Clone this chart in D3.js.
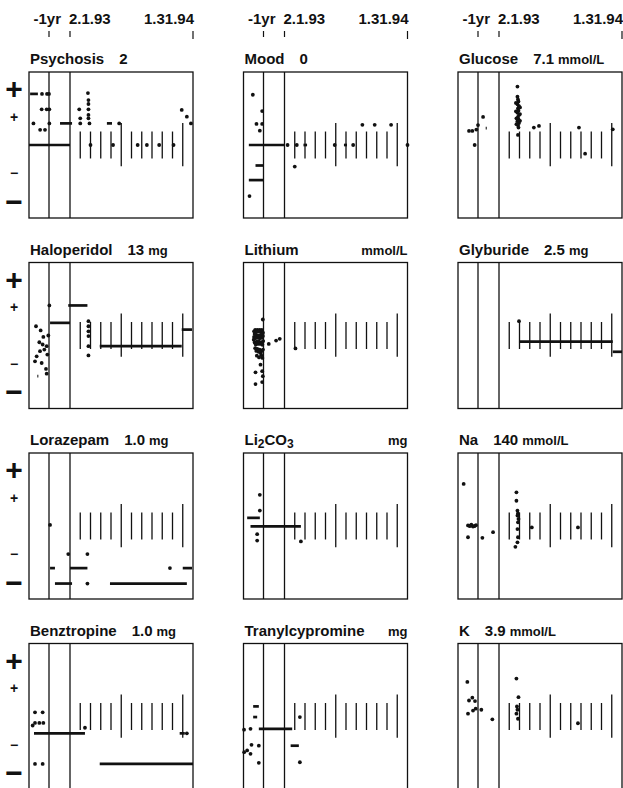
<!DOCTYPE html>
<html>
<head>
<meta charset="utf-8">
<script src="https://cdn.jsdelivr.net/npm/d3@7"></script>
<style>
  body { margin: 0; background: #fff; }
  text { font-family: "Liberation Sans", Arial, sans-serif; font-weight: bold; fill: #111; }
</style>
</head>
<body>
<div class="chart"></div>
<script>
// time is in months from 2.1.93; the stretch before -1yr is squeezed
const timeTicks = [-12, 0, 12];
const timeTickLabels = ['-1yr', '2.1.93', '1.31.94'];
const monthBars = [1, 2, 3, 4, 5, 6, 7, 8, 9, 10, 11];
const longBars = [5, 11];
const levelValues = [2, 1, -1, -2];
const levelLabels = ['+', '+', '\u2212', '\u2212'];

const names = ['Psychosis', 'Mood', 'Glucose', 'Haloperidol', 'Lithium', 'Glyburide',
  'Lorazepam', 'Li2CO3', 'Na', 'Benztropine', 'Tranylcypromine', 'K'];
const refValues = ['2', '0', '7.1', '13', '', '2.5', '1.0', '', '140', '1.0', '', '3.9'];
const units = ['', '', 'mmol/L', 'mg', 'mmol/L', 'mg', 'mg', 'mg', 'mmol/L', 'mg', 'mg', 'mmol/L'];

// dots: [time, level]   doses: [from, to, level]
const psychosisDots = [[-18.3, 1.82], [-13.8, 1.82], [-12, 1.82], [1.75, 1.85],
  [-18.6, 1.27], [-14.1, 1.27], [-11.8, 1.27], [0.9, 1.27], [1.8, 1.27],
  [1.8, 1.6], [1.8, 1.46], [1.8, 1.07], [1, 0.95], [1.8, 0.95],
  [-26, 0.77], [-11.8, 0.77], [1, 0.77], [1.9, 0.77], [4.8, 0.77],
  [-20, 0.54], [-15.6, 0.54],
  [2, 0], [4.2, 0], [6.6, 0], [7.5, 0], [8.7, 0], [10.1, 0],
  [10.9, 1.25], [11.4, 1.01], [11.8, 0.77]];
const psychosisDoses = [[-29, -22, 1.82], [-5.7, 0.2, 0.77], [-30, 0, 0], [3.6, 4.1, 0.77]];

const moodDots = [[-21.6, 1.79], [-13.2, 1.21], [-18.3, 0.75], [-13.2, 0.75], [-15.3, 0.51],
  [0.3, 0], [1.2, 0], [4.9, 0], [6.7, 0], [12, 0], [7.6, 0.72], [8.8, 0.72], [10.4, 0.72],
  [1, -0.77], [-24.6, -1.82]];
const moodDoses = [[-25.2, -0.2, 0], [1.85, 2.2, 0], [5.8, 6.1, 0], [-19.2, -11.8, -0.73],
  [-25.2, -11.8, -1.25]];

const glucoseDots = [[-20.1, 0.5], [-17.1, 0.5], [-13.5, 0.55], [-15, 0], [-12, 0.71], [-9.1, 1.0],
  [1.8, 2.08], [1.8, 1.72], [1.85, 1.62], [1.9, 1.55], [1.8, 1.45], [1.95, 1.38], [1.85, 1.3],
  [1.9, 1.22], [1.8, 1.15], [1.95, 1.07], [1.85, 1.0], [1.9, 0.92], [1.8, 0.85], [1.95, 0.78],
  [1.85, 0.7], [1.9, 0.62], [1.85, 0.36],
  [1.65, 1.5], [2.05, 1.34], [1.65, 1.2], [2.05, 1.1], [1.7, 0.95], [2.05, 0.86], [1.7, 0.74],
  [3.4, 0.62], [3.9, 0.68], [7.8, 0.62], [8.4, -0.31], [11.1, 0.56]];
const glucoseDoses = [[-7.6, -7.0, 0.6]];

const haloperidolDots = [[-23.7, 0.33], [-19.5, 0.18], [-17.1, -0.05], [-12.6, 0], [-20.7, -0.24],
  [-17.7, -0.32], [-14.1, -0.38], [-16.2, -0.5], [-20.1, -0.56], [-13.5, -0.68], [-23.1, -0.74],
  [-24.6, -0.92], [-18.6, -0.98], [-14.7, -1.19], [-14.1, -1.36], [-11.8, 1.07],
  [1.8, 0.51], [1.8, 0.33], [1.8, 0.15], [1.8, -0.02], [1.8, -0.38], [1.8, -0.71]];
const haloperidolDoses = [[-11.4, 0, 0.45], [-1, 1.7, 1.07], [2.9, 10.9, -0.38],
  [10.9, 11.9, 0.21], [-22.5, -21.6, -1.45]];

const lithiumDots = [[-20.5, 0.15], [-19.5, 0.2], [-18.5, 0.12], [-17.5, 0.2], [-16.5, 0.15],
  [-15.5, 0.2], [-14.5, 0.12], [-13.5, 0.2], [-12.5, 0.1],
  [-20.5, -0.05], [-19.5, -0.1], [-18.5, 0], [-17.5, -0.08], [-16.5, 0], [-15.5, -0.1],
  [-14.5, 0], [-13.5, -0.08], [-12.5, -0.02],
  [-20, -0.25], [-19, -0.32], [-18, -0.22], [-17, -0.3], [-16, -0.22], [-15, -0.3],
  [-14, -0.25], [-13, -0.33], [-20.8, -0.15], [-12.3, -0.2],
  [-19.5, -0.45], [-18.5, -0.55], [-17.5, -0.48], [-16.5, -0.58], [-15.5, -0.5],
  [-14.5, -0.62], [-13.5, -0.55], [-12.5, -0.5], [-20, 0.05], [-13, 0.05],
  [-18, -0.72], [-16, -0.78], [-14, -0.7], [-13, -0.8],
  [-12.6, 0.57], [-19.2, -1.31], [-13.2, -1.27], [-19.2, -1.73], [-13.2, -1.66],
  [-14.7, -1.04], [-12.6, -1.45],
  [-9, -0.3], [-4.8, -0.18], [-2.7, -0.12], [1.07, -0.46]];
const lithiumDoses = [];

const glyburideDots = [[1.95, 0.51]];
const glyburideDoses = [[1.95, 11.1, -0.22], [11.1, 12, -0.58]];

const lorazepamDots = [[-11.4, 0.04], [-1, -1.0], [1.7, -1.0], [1.7, -2.05], [9.75, -1.5]];
const lorazepamDoses = [[-11.4, -8.6, -1.5], [0, 1.7, -1.5], [-8.6, 0.2, -2.05],
  [3.9, 11.4, -2.05], [11, 11.9, -1.5]];

const li2co3Dots = [[-15.3, 1.11], [-15.3, 0.55], [-17.7, -0.29], [-17.7, -0.52], [1.6, -0.55]];
const li2co3Doses = [[-26.7, -15.3, 0.29], [-23.7, 1.6, -0.01]];

const naDots = [[-24.9, 1.5], [-21, 0.02], [-19.5, 0], [-18, 0.05], [-16.5, -0.02], [-15, 0],
  [-13.8, 0.03], [-21, -0.4], [-9.5, -0.42], [-3.4, -0.22],
  [1.7, 1.2], [1.7, 0.9], [1.8, 0.55], [1.85, 0.45], [1.8, 0.37], [1.9, 0.25], [1.85, 0.13],
  [1.8, -0.11], [1.85, -0.4], [1.8, -0.58], [1.6, -0.74], [3.2, -0.05], [7.7, -0.05]];
const naDoses = [[-20.5, -14, 0]];

const benztropineDots = [[-24.6, 0.15], [-17.7, 0.15], [-26.7, -0.32], [-24.6, -0.23],
  [-20.7, -0.23], [-17.1, -0.23], [1.46, -0.4], [11.4, -0.6], [-24.6, -1.69], [-17.7, -1.69]];
const benztropineDoses = [[-25.5, 1.46, -0.6], [10.7, 11.2, -0.6], [2.9, 12, -1.69]];

const tranylcypromineDots = [[-29.5, -0.47], [-23.7, -0.44], [-22.8, -1.01], [-16.2, -1.04],
  [-29.4, -1.27], [-26.7, -1.21], [-23.7, -1.33], [-16.2, -1.65], [1.5, -0.02], [1.5, -1.63]];
const tranylcypromineDoses = [[-21.3, -16.2, 0.36], [-21.3, -17.7, -0.02], [-16.2, 0.75, -0.44],
  [0.6, 1.4, -1.04]];

const kDots = [[-21.6, 1.23], [-20.1, 0.57], [-17.1, 0.67], [-14.7, 0.55], [-16.5, 0.21],
  [-14.1, 0.28], [-21, 0.1], [-10.1, 0.24], [-3.8, -0.1],
  [1.7, 1.35], [1.9, 0.69], [1.75, 0.36], [1.8, 0.24], [1.7, 0.1], [1.85, -0.08], [7.7, -0.24]];
const kDoses = [];

const allDots = [psychosisDots, moodDots, glucoseDots, haloperidolDots, lithiumDots, glyburideDots,
  lorazepamDots, li2co3Dots, naDots, benztropineDots, tranylcypromineDots, kDots];
const allDoses = [psychosisDoses, moodDoses, glucoseDoses, haloperidolDoses, lithiumDoses, glyburideDoses,
  lorazepamDoses, li2co3Doses, naDoses, benztropineDoses, tranylcypromineDoses, kDoses];

const width = 623;
const height = 788;
const panelW = 164;
const panelH = 146;
const colX = c => 29 + c * 214.5;
const rowY = r => 72 + r * 190.5;

const svg = d3.select('.chart').append('svg')
  .attr('width', width)
  .attr('height', height);

const x = d3.scaleLinear().domain([-30, -12, 0, 12]).range([0, 20, 41, panelW]);
const y = d3.scaleLinear().domain([2.6, -2.6]).range([0, panelH]);

// time labels over each column
for (let c = 0; c < 3; c++) {
  let top = svg.append('g').attr('transform', `translate(${colX(c)},0)`);
  top.selectAll('line')
    .data(timeTicks)
    .enter()
    .append('line')
    .attr('x1', d => x(d)).attr('x2', d => x(d))
    .attr('y1', 31).attr('y2', d => d === 12 ? 39 : 37)
    .attr('stroke', '#111')
    .attr('stroke-width', 1.2);
  top.selectAll('text')
    .data(timeTicks)
    .enter()
    .append('text')
    .attr('x', (d, i) => x(d) + [12, -1, 1][i])
    .attr('y', 24)
    .attr('text-anchor', (d, i) => ['end', 'start', 'end'][i])
    .style('font-size', '15px')
    .text((d, i) => timeTickLabels[i]);
}

// +/- level marks down the left side
for (let r = 0; r < 4; r++) {
  svg.append('g')
    .attr('transform', `translate(14,${rowY(r)})`)
    .selectAll('text')
    .data(levelValues)
    .enter()
    .append('text')
    .attr('x', 0)
    .attr('y', d => y(d))
    .attr('text-anchor', 'middle')
    .attr('dominant-baseline', 'central')
    .style('font-size', d => Math.abs(d) === 2 ? '30px' : '14px')
    .text((d, i) => levelLabels[i]);
}

names.forEach((name, i) => {
  let g = svg.append('g')
    .attr('transform', `translate(${colX(i % 3)},${rowY(Math.floor(i / 3))})`);

  // title
  let title = g.append('text').attr('x', 1).attr('y', -8).style('font-size', '15px');
  if (name === 'Li2CO3') {
    title.append('tspan').text('Li');
    title.append('tspan').attr('dy', 3).style('font-size', '12px').text('2');
    title.append('tspan').attr('dy', -3).text('CO');
    title.append('tspan').attr('dy', 3).style('font-size', '12px').text('3');
  } else {
    title.append('tspan').text(name);
  }
  if (refValues[i]) {
    title.append('tspan').attr('dx', 15).text(refValues[i]);
    if (units[i]) title.append('tspan').attr('dx', 4).style('font-size', '13px').text(units[i]);
  } else if (units[i]) {
    g.append('text')
      .attr('x', panelW)
      .attr('y', -8)
      .attr('text-anchor', 'end')
      .style('font-size', '13px')
      .text(units[i]);
  }

  // frame and the two period dividers
  g.append('rect')
    .attr('x', 0).attr('y', 0)
    .attr('width', panelW).attr('height', panelH)
    .attr('fill', 'none')
    .attr('stroke', '#111')
    .attr('stroke-width', 1.3);
  g.selectAll('.divider')
    .data(timeTicks.slice(0, 2))
    .enter()
    .append('line')
    .attr('class', 'divider')
    .attr('x1', d => x(d)).attr('x2', d => x(d))
    .attr('y1', 0).attr('y2', panelH)
    .attr('stroke', '#111')
    .attr('stroke-width', 1.3);

  // monthly bars
  g.selectAll('.month')
    .data(monthBars)
    .enter()
    .append('line')
    .attr('class', 'month')
    .attr('x1', d => x(d)).attr('x2', d => x(d))
    .attr('y1', d => y(longBars.includes(d) ? 0.78 : 0.48))
    .attr('y2', d => y(longBars.includes(d) ? -0.76 : -0.48))
    .attr('stroke', '#111')
    .attr('stroke-width', 1.3);

  g.selectAll('.dose')
    .data(allDoses[i])
    .enter()
    .append('line')
    .attr('class', 'dose')
    .attr('x1', d => x(d[0])).attr('x2', d => x(d[1]))
    .attr('y1', d => y(d[2])).attr('y2', d => y(d[2]))
    .attr('stroke', '#111')
    .attr('stroke-width', 2.7);

  g.selectAll('circle')
    .data(allDots[i])
    .enter()
    .append('circle')
    .attr('cx', d => x(d[0]))
    .attr('cy', d => y(d[1]))
    .attr('r', 1.9)
    .attr('fill', '#111');
});
</script>
</body>
</html>
